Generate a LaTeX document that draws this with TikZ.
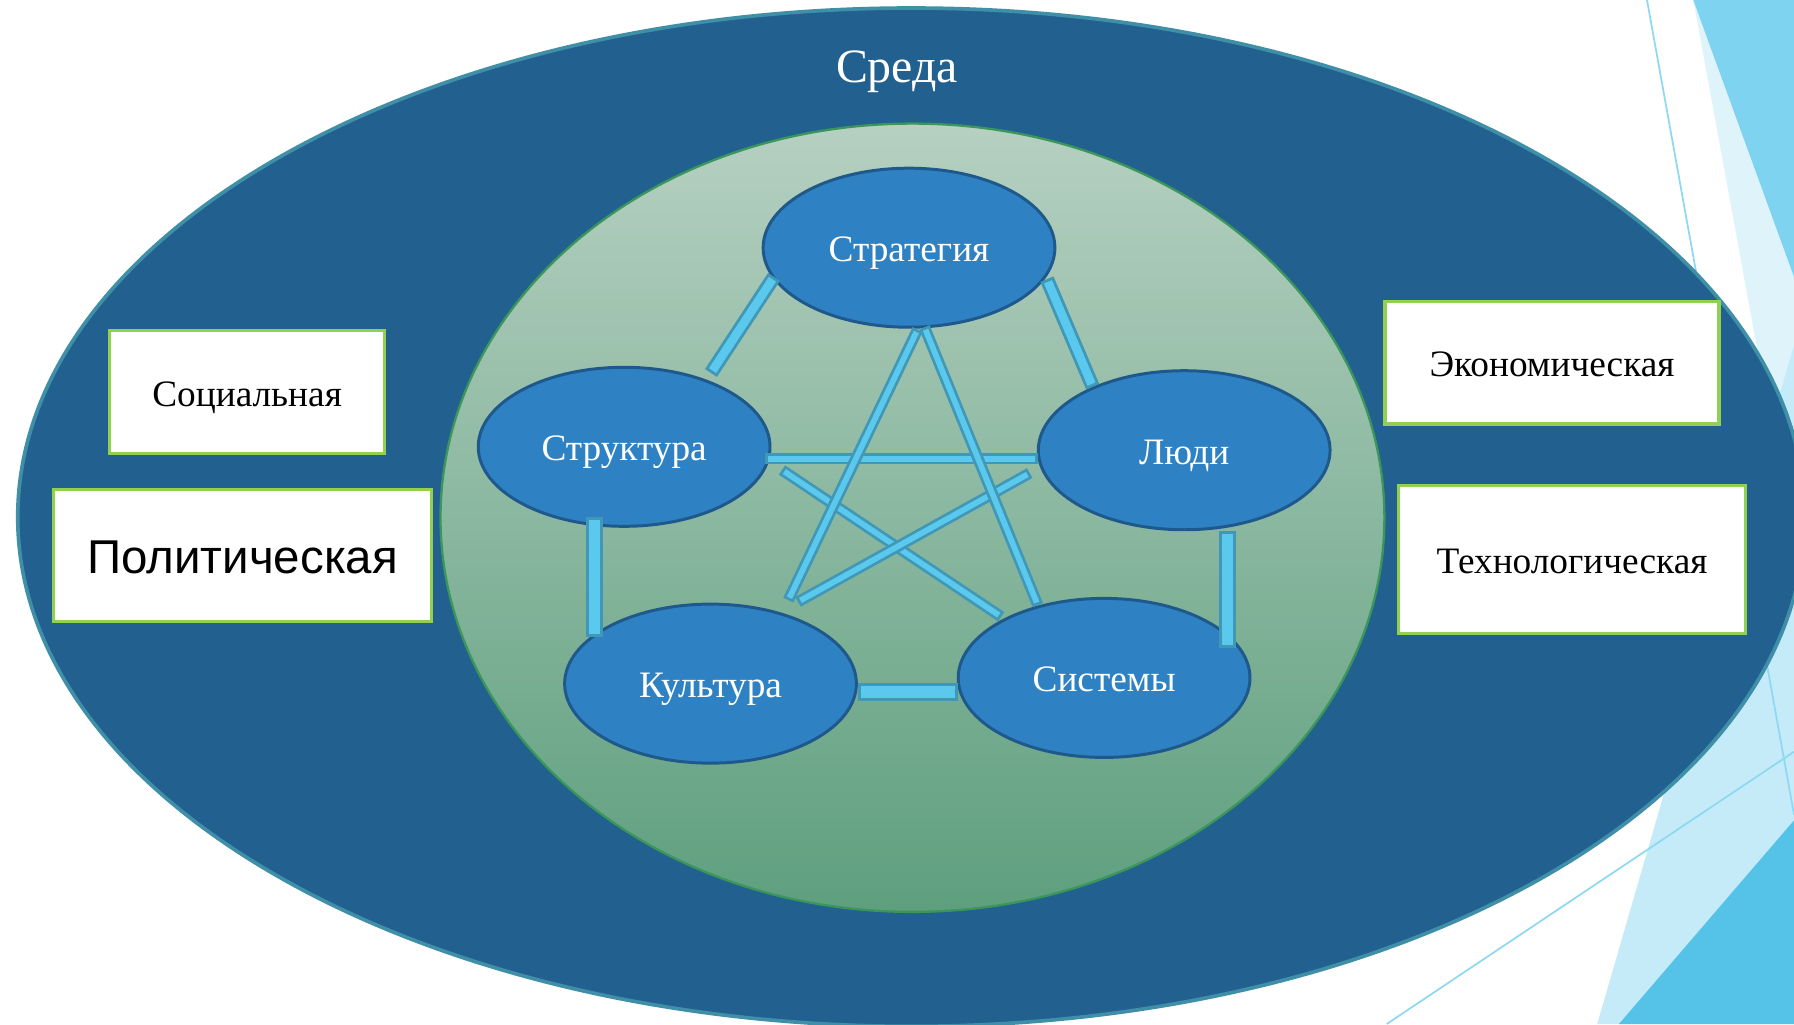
\documentclass[tikz,border=0pt]{standalone}
\usepackage{fontspec}
\setmainfont{Liberation Serif}
\newfontfamily\polfont{Liberation Sans}
\usetikzlibrary{shapes.geometric}
\definecolor{outerfill}{HTML}{22618F}
\definecolor{outerline}{HTML}{3F8FA8}
\definecolor{innertop}{HTML}{B6D0C1}
\definecolor{innerbot}{HTML}{5E9F7E}
\definecolor{innerline}{HTML}{3A965A}
\definecolor{nodefill}{HTML}{2E82C3}
\definecolor{nodeline}{HTML}{1F598C}
\definecolor{barfill}{HTML}{5BC8EE}
\definecolor{barline}{HTML}{4098B6}
\definecolor{boxline}{HTML}{92D050}
\definecolor{decoA}{HTML}{DFF3FB}
\definecolor{decoB}{HTML}{7DD3F0}
\definecolor{decoC}{HTML}{C5EAF8}
\definecolor{decoD}{HTML}{55C3E8}
\definecolor{decoline}{HTML}{8DD8F2}
\tikzset{
  elnode/.style={ellipse, draw=nodeline, fill=nodefill, line width=2.6pt,
    minimum width=255pt, minimum height=139pt, inner sep=0pt, text=white,
    font=\fontsize{32.6}{39}\selectfont, text height=24.5pt, text depth=0pt},
  box/.style={rectangle, draw=boxline, fill=white, line width=2.8pt, inner sep=0pt,
    text=black, font=\fontsize{32.6}{39}\selectfont, text height=24.5pt, text depth=0pt},
  barS/.style={draw=barline, line width=9.8pt, line cap=butt,
    postaction={draw=barfill, line width=5pt, shorten <=2.4pt, shorten >=2.4pt}},
  barM/.style={draw=barline, line width=12.5pt, line cap=butt,
    postaction={draw=barfill, line width=7.5pt, shorten <=2.5pt, shorten >=2.5pt}},
  barV/.style={draw=barline, line width=14.5pt, line cap=butt,
    postaction={draw=barfill, line width=9.3pt, shorten <=2.6pt, shorten >=2.6pt}},
  barW/.style={draw=barline, line width=15.7pt, line cap=butt,
    postaction={draw=barfill, line width=10.5pt, shorten <=2.6pt, shorten >=2.6pt}},
  decol/.style={draw=decoline, line width=1.5pt}
}
\begin{document}
\begin{tikzpicture}[x=1pt,y=-1pt]
\useasboundingbox (0,0) rectangle (1568,895);
\clip (0,0) rectangle (1568,895);
\fill[white] (0,0) rectangle (1568,895);
% decorations
\fill[decoA] (1480,0) -- (1568,0) -- (1568,481) -- cycle;
\fill[decoB] (1480,0) -- (1568,0) -- (1568,242) -- cycle;
\fill[decoC] (1396,895) -- (1568,301.5) -- (1568,895) -- cycle;
\fill[decoD] (1415,895) -- (1568,717) -- (1568,895) -- cycle;
\draw[decol] (1439.5,0) -- (1568,712);
\draw[decol] (1212,895) -- (1568,657);
% outer ellipse
\draw[fill=outerfill, draw=outerline, line width=3.2pt] (796.5,452) ellipse [x radius=781pt, y radius=445pt];
\node[anchor=base, text=white, font=\fontsize{41.8}{50}\selectfont] (sreda) at (784,72.5) {Среда};
% inner ellipse
\path[draw=innerline, line width=2pt, top color=innertop, bottom color=innerbot]
  (797.5,452.5) ellipse [x radius=412.5pt, y radius=344.5pt];
% outside boxes
\node[box, minimum width=240pt, minimum height=107pt] (soc) at (216,342.6) {Социальная};
\node[box, minimum width=330pt, minimum height=115pt, font=\polfont\fontsize{41.5}{49}\selectfont, text height=31pt] (pol) at (212,485.6) {Политическая};
\node[box, minimum width=292pt, minimum height=107pt] (eco) at (1356.5,317) {Экономическая};
\node[box, minimum width=303pt, minimum height=129pt] (tech) at (1374,489) {Технологическая};
% inner nodes
\node[elnode] (strat) at (794.5,216.5) {Стратегия};
\node[elnode] (struct) at (545.5,390.5) {Структура};
\node[elnode] (people) at (1035,393.5) {Люди};
\node[elnode] (cult) at (621,597.5) {Культура};
\node[elnode] (sys) at (965,592.5) {Системы};
% bar end points
\coordinate (a1) at (676.5,242);  \coordinate (a2) at (621.4,326);
\coordinate (b1) at (915,244);    \coordinate (b2) at (955,338);
\coordinate (c1) at (669,401);    \coordinate (c2) at (907,401);
\coordinate (d1) at (802,288);    \coordinate (d2) at (689,524.5);
\coordinate (e1) at (808,286);    \coordinate (e2) at (907,528.8);
\coordinate (f1) at (683.5,410.8);\coordinate (f2) at (875,539);
\coordinate (g1) at (900,413.5);  \coordinate (g2) at (697.5,526);
\coordinate (h1) at (519.5,452);  \coordinate (h2) at (519.5,556.7);
\coordinate (i1) at (1073,464);   \coordinate (i2) at (1073,566);
\coordinate (j1) at (750,604.5);  \coordinate (j2) at (837,604.5);
% bars
\draw[barM] (a1) -- (a2);
\draw[barM] (b1) -- (b2);
\draw[barS] (c1) -- (c2);
\draw[barS] (f1) -- (f2);
\draw[barS] (g1) -- (g2);
\draw[barS] (d1) -- (d2);
\draw[barS] (e1) -- (e2);
\draw[barV] (h1) -- (h2);
\draw[barV] (i1) -- (i2);
\draw[barW] (j1) -- (j2);
\end{tikzpicture}
\end{document}
